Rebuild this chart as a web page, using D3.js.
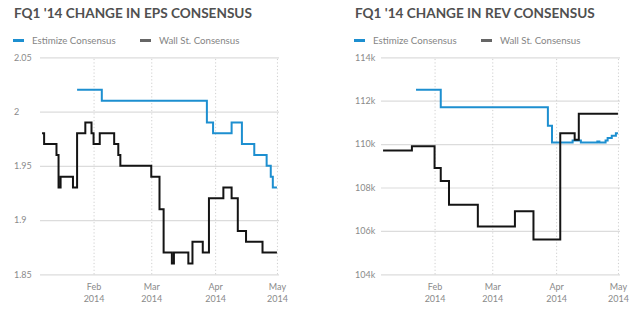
<!DOCTYPE html>
<html>
<head>
<meta charset="utf-8">
<script src="https://cdn.jsdelivr.net/npm/d3@7"></script>
<style>
  html, body { margin: 0; padding: 0; background: #fff; }
  svg { display: block; }
  .title { font-family: Lato, "Open Sans", sans-serif; font-weight: 700; font-size: 13.6px; fill: #505050; }
  .legend text { font-family: Lato, "Open Sans", sans-serif; font-size: 9.7px; fill: #858585; }
  .tick text { font-family: Lato, "Open Sans", sans-serif; font-size: 9px; fill: #8a8a8a; }
</style>
</head>
<body>
<svg id="chart" width="640" height="327"></svg>
<script>
// Consensus history, FQ1 '14 — EPS panel
const epsWallStDates = ["2014-01-07","2014-01-08","2014-01-14","2014-01-15","2014-01-16","2014-01-22","2014-01-24","2014-01-28","2014-01-31","2014-02-01","2014-02-04","2014-02-11","2014-02-13","2014-02-14","2014-03-01","2014-03-05","2014-03-07","2014-03-11","2014-03-12","2014-03-19","2014-03-21","2014-03-26","2014-03-29","2014-04-05","2014-04-09","2014-04-12","2014-04-16","2014-04-24","2014-05-01"];
const epsWallStValues = [1.98,1.97,1.96,1.93,1.94,1.93,1.98,1.99,1.98,1.97,1.98,1.97,1.96,1.95,1.94,1.91,1.87,1.86,1.87,1.86,1.88,1.87,1.92,1.93,1.92,1.89,1.88,1.87,1.87];

const epsEstimizeDates = ["2014-01-24","2014-02-05","2014-03-28","2014-03-31","2014-04-09","2014-04-14","2014-04-20","2014-04-26","2014-04-28","2014-04-29","2014-05-01"];
const epsEstimizeValues = [2.02,2.01,1.99,1.98,1.99,1.97,1.96,1.95,1.94,1.93,1.93];

// Revenue panel
const revWallStDates = ["2014-01-07","2014-01-21","2014-02-01","2014-02-04","2014-02-08","2014-02-22","2014-03-12","2014-03-21","2014-04-03","2014-04-10","2014-04-12","2014-05-01"];
const revWallStValues = [109700,109900,108900,108300,107200,106200,106900,105600,110500,110200,111400,111400];

const revEstimizeDates = ["2014-01-23","2014-02-04","2014-03-28","2014-03-30","2014-04-09","2014-04-13","2014-04-21","2014-04-22","2014-04-25","2014-04-26","2014-04-28","2014-04-30","2014-05-01"];
const revEstimizeValues = [112500,111700,110850,110070,110170,110070,110120,110070,110170,110280,110380,110500,110500];

const epsTicks = [1.85, 1.9, 1.95, 2, 2.05];
const revTicks = [104000, 106000, 108000, 110000, 112000, 114000];
const monthTicks = ["2014-02-01","2014-03-01","2014-04-01","2014-05-01"];

const seriesNames = ["Estimize Consensus", "Wall St. Consensus"];
const seriesColors = ["#1d8fd0", "#141414"];

const parse = d3.utcParse("%Y-%m-%d");
const svg = d3.select("#chart");

function zipSeries(dates, values) {
  return dates.map((d, i) => ({ date: parse(d), value: values[i] }));
}

function drawPanel(opts) {
  const g = svg.append("g").attr("transform", `translate(${opts.left},0)`);
  const plotL = 40, plotR = 279, plotT = 57.3, plotB = 274.3;

  g.append("text").attr("class", "title").attr("x", 14).attr("y", 18).text(opts.title);

  // legend
  const leg = g.append("g").attr("class", "legend");
  const legX = [13, 140];
  seriesNames.forEach((name, i) => {
    leg.append("line")
      .attr("x1", legX[i]).attr("x2", legX[i] + 11)
      .attr("y1", 40.5).attr("y2", 40.5)
      .attr("stroke", i === 0 ? seriesColors[0] : "#666").attr("stroke-width", 3);
    leg.append("text").attr("x", legX[i] + 19).attr("y", 44).text(name);
  });

  const x = d3.scaleUtc()
    .domain([parse("2014-01-06"), parse("2014-05-02")])
    .range([plotL, plotR]);
  const y = d3.scaleLinear().domain(opts.yDomain).range([plotB, plotT]);

  // horizontal grid + y labels
  const yAxis = g.append("g")
    .attr("transform", `translate(${plotL},0)`)
    .call(d3.axisLeft(y).tickValues(opts.yTicks).tickFormat(opts.yFormat)
      .tickSize(-(plotR - plotL)).tickPadding(0));
  yAxis.select(".domain").remove();
  yAxis.selectAll(".tick line").attr("stroke", "#dcdcdc").attr("stroke-width", 1.2);
  yAxis.selectAll(".tick text").attr("text-anchor", "start").attr("x", 14 - plotL);

  // vertical dotted month grid + labels
  const months = monthTicks.map(parse);
  const xAxis = g.append("g")
    .attr("transform", `translate(0,${plotB})`)
    .call(d3.axisBottom(x).tickValues(months).tickFormat(() => "")
      .tickSize(-(plotB - plotT)));
  xAxis.select(".domain").remove();
  xAxis.selectAll(".tick line").attr("stroke", "#cfcfcf").attr("stroke-dasharray", "1.2,2.2");
  xAxis.selectAll(".tick text").remove();
  const lab = xAxis.selectAll(".tick").append("text")
    .attr("text-anchor", "middle").attr("y", 16);
  lab.append("tspan").attr("x", 0).text(d => d3.utcFormat("%b")(d));
  lab.append("tspan").attr("x", 0).attr("dy", 11.5).text(d => d3.utcFormat("%Y")(d));

  const line = d3.line()
    .x(d => x(d.date)).y(d => y(d.value))
    .curve(d3.curveStepAfter);

  opts.series.forEach((s, i) => {
    g.append("path")
      .datum(s)
      .attr("fill", "none")
      .attr("stroke", seriesColors[i])
      .attr("stroke-width", 2)
      .attr("d", line);
  });
}

drawPanel({
  left: 0,
  title: "FQ1 '14 CHANGE IN EPS CONSENSUS",
  yDomain: [1.85, 2.05],
  yTicks: epsTicks,
  yFormat: d3.format("~g"),
  series: [zipSeries(epsEstimizeDates, epsEstimizeValues), zipSeries(epsWallStDates, epsWallStValues)]
});

drawPanel({
  left: 341,
  title: "FQ1 '14 CHANGE IN REV CONSENSUS",
  yDomain: [104000, 114000],
  yTicks: revTicks,
  yFormat: d => d3.format("d")(d / 1000) + "k",
  series: [zipSeries(revEstimizeDates, revEstimizeValues), zipSeries(revWallStDates, revWallStValues)]
});
</script>
</body>
</html>
